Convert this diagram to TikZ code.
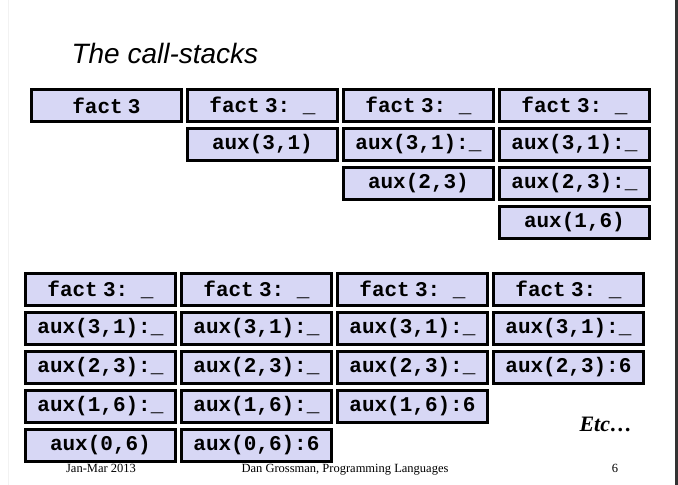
\documentclass[tikz,border=0pt]{standalone}
\usepackage{fontspec}
\setmainfont{Liberation Serif}
\setsansfont{Liberation Sans}
\setmonofont{Liberation Mono}
\usetikzlibrary{matrix,positioning}
\definecolor{stackfill}{RGB}{215,215,245}
\newcommand{\factcall}[1]{fact\hspace{0.25em}3#1}
\tikzset{%
  callbox/.style={rectangle,draw=black,fill=stackfill,line width=2.5pt,minimum width=150pt,minimum height=32pt,inner sep=0pt,
    font=\ttfamily\bfseries\fontsize{21}{21}\selectfont},
  footer/.style={anchor=base,font=\rmfamily\fontsize{12.5}{12.5}\selectfont},
  stacks/.style={matrix,inner sep=0pt,row sep=4.5pt,column sep=3.5pt,anchor=north west}%
}

\begin{document}
\begin{tikzpicture}[x=1pt,y=-1pt]
      \useasboundingbox (0,0) rectangle (678,485);
      \draw[gray!10, line width=1pt] (8,0) -- (8,485);
      \draw[black!80, line width=3pt] (676.5,0) -- (676.5,485);

      \node (title) [anchor=base west, font=\sffamily\itshape\fontsize{28}{28}\selectfont] at (68,63) {The call-stacks};

      % first calls: the stack grows
      \matrix (grow) [stacks] at (30,88) {
        \node (fact_a) [callbox] {\factcall{}}; & \node (fact_b) [callbox] {\factcall{: \_}}; & \node (fact_c) [callbox] {\factcall{: \_}}; & \node (fact_d) [callbox] {\factcall{: \_}};\\
        & \node (aux31_b) [callbox] {aux(3,1)}; & \node (aux31_c) [callbox] {aux(3,1):\_}; & \node (aux31_d) [callbox] {aux(3,1):\_};\\
        & & \node (aux23_c) [callbox] {aux(2,3)}; & \node (aux23_d) [callbox] {aux(2,3):\_};\\
        & & & \node (aux16_d) [callbox] {aux(1,6)};\\
      };

      % later calls: results come back
      \matrix (back) [stacks] at (24,272) {
        \node (fact_e) [callbox] {\factcall{: \_}}; & \node (fact_f) [callbox] {\factcall{: \_}}; & \node (fact_g) [callbox] {\factcall{: \_}}; & \node (fact_h) [callbox] {\factcall{: \_}};\\
        \node (aux31_e) [callbox] {aux(3,1):\_}; & \node (aux31_f) [callbox] {aux(3,1):\_}; & \node (aux31_g) [callbox] {aux(3,1):\_}; & \node (aux31_h) [callbox] {aux(3,1):\_};\\
        \node (aux23_e) [callbox] {aux(2,3):\_}; & \node (aux23_f) [callbox] {aux(2,3):\_}; & \node (aux23_g) [callbox] {aux(2,3):\_}; & \node (aux23_h) [callbox] {aux(2,3):6};\\
        \node (aux16_e) [callbox] {aux(1,6):\_}; & \node (aux16_f) [callbox] {aux(1,6):\_}; & \node (aux16_g) [callbox] {aux(1,6):6}; & \\
        \node (aux06_e) [callbox] {aux(0,6)}; & \node (aux06_f) [callbox] {aux(0,6):6}; & & \\
      };

      \node (etc) [anchor=base west, font=\rmfamily\bfseries\itshape\fontsize{22}{22}\selectfont] at (576,431) {Etc…};

      \node (date) [footer] at (101,472) {Jan-Mar 2013};
      \node (author) [footer] at (345,472) {Dan Grossman, Programming Languages};
      \node (page) [footer] at (615,472) {6};
\end{tikzpicture}
\end{document}
